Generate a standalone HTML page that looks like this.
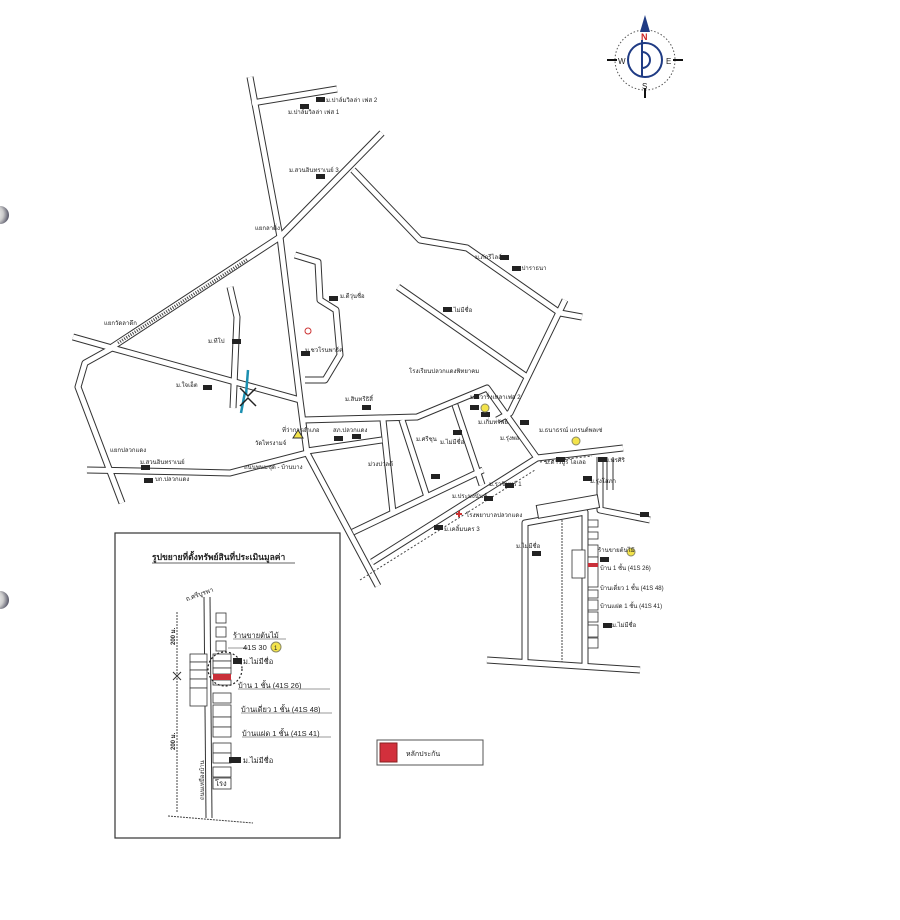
<!DOCTYPE html>
<html><head><meta charset="utf-8"><style>
html,body{margin:0;padding:0;background:#fff;}
svg{display:block;}
text{font-family:"Liberation Sans","Noto Sans CJK SC",sans-serif;fill:#222;}
.rd1{fill:none;stroke:#333;stroke-width:7;stroke-linejoin:round;}
.rd2{fill:none;stroke:#fff;stroke-width:5;stroke-linejoin:round;}
.s{font-size:6px;}
</style></head><body>
<svg width="900" height="920" viewBox="0 0 900 920" xmlns="http://www.w3.org/2000/svg">
<defs>
<radialGradient id="hole" cx="0.2" cy="0.45" r="0.8"><stop offset="0" stop-color="#fff"/><stop offset="0.6" stop-color="#ccc"/><stop offset="1" stop-color="#556"/></radialGradient>
</defs>
<rect width="900" height="920" fill="#fff"/>
<circle cx="0" cy="215" r="9" fill="url(#hole)"/>
<circle cx="0" cy="600" r="9" fill="url(#hole)"/>

<g class="rd1">
<polyline points="250,77 280,237 300,400 307,453 378,586"/>
<polyline points="252,103 337,89"/>
<polyline points="112,347 280,237 382,133"/>
<polyline points="73,337 112,348 300,400"/>
<polyline points="112,348 85,363 78,387 122,503"/>
<polyline points="230,287 237,317 233,408"/>
<polyline points="87,470 190,472 230,473 307,453"/>
<polyline points="307,451 382,440"/>
<polyline points="303,420 417,417 487,388 537,458 623,448"/>
<polyline points="383,420 393,513"/>
<polyline points="402,420 427,497"/>
<polyline points="455,405 482,485"/>
<polyline points="537,458 372,562"/>
<polyline points="353,532 483,470"/>
<polyline points="353,170 420,240 467,248 560,313 582,317"/>
<polyline points="565,300 510,413 497,420"/>
<polyline points="398,287 527,377"/>
<polyline points="600,457 600,510 650,520"/>
<polyline points="610,457 610,490"/>
<polyline points="525,662 525,523 585,512 585,667"/>
<polyline points="487,660 640,670"/>
<polyline points="295,255 318,262 320,300 336,310 340,355 325,380 305,380"/>
</g>
<g class="rd2">
<polyline points="250,77 280,237 300,400 307,453 378,586"/>
<polyline points="252,103 337,89"/>
<polyline points="112,347 280,237 382,133"/>
<polyline points="73,337 112,348 300,400"/>
<polyline points="112,348 85,363 78,387 122,503"/>
<polyline points="230,287 237,317 233,408"/>
<polyline points="87,470 190,472 230,473 307,453"/>
<polyline points="307,451 382,440"/>
<polyline points="303,420 417,417 487,388 537,458 623,448"/>
<polyline points="383,420 393,513"/>
<polyline points="402,420 427,497"/>
<polyline points="455,405 482,485"/>
<polyline points="537,458 372,562"/>
<polyline points="353,532 483,470"/>
<polyline points="353,170 420,240 467,248 560,313 582,317"/>
<polyline points="565,300 510,413 497,420"/>
<polyline points="398,287 527,377"/>
<polyline points="600,457 600,510 650,520"/>
<polyline points="610,457 610,490"/>
<polyline points="525,662 525,523 585,512 585,667"/>
<polyline points="487,660 640,670"/>
<polyline points="295,255 318,262 320,300 336,310 340,355 325,380 305,380"/>
</g>
<line x1="118" y1="343" x2="248" y2="259" stroke="#444" stroke-width="3" stroke-dasharray="1,1.5"/>
<g transform="rotate(-10 568 507)"><rect x="537" y="500" width="62" height="13" fill="#fff" stroke="#333"/></g>
<polyline points="360,580 535,470" fill="none" stroke="#444" stroke-dasharray="2,2"/>
<polyline points="540,462 592,456" fill="none" stroke="#444" stroke-dasharray="2,2"/>
<path d="M248,370 L246,395 M245,392 L241,413" stroke="#1b8fb0" stroke-width="2.5" fill="none"/>
<path d="M240,388 L248,396 L256,388 M240,406 L248,398 L256,406" stroke="#222" stroke-width="1.5" fill="none"/>

<g fill="#222">
<rect x="316" y="97" width="9" height="5"/><rect x="300" y="104" width="9" height="5"/>
<rect x="316" y="174" width="9" height="5"/><rect x="329" y="296" width="9" height="5"/>
<rect x="232" y="339" width="9" height="5"/><rect x="301" y="351" width="9" height="5"/>
<rect x="203" y="385" width="9" height="5"/><rect x="362" y="405" width="9" height="5"/>
<rect x="334" y="436" width="9" height="5"/><rect x="352" y="434" width="9" height="5"/>
<rect x="141" y="465" width="9" height="5"/><rect x="144" y="478" width="9" height="5"/>
<rect x="443" y="307" width="9" height="5"/><rect x="500" y="255" width="9" height="5"/>
<rect x="512" y="266" width="9" height="5"/><rect x="470" y="405" width="9" height="5"/>
<rect x="481" y="412" width="9" height="5"/><rect x="453" y="430" width="9" height="5"/>
<rect x="520" y="420" width="9" height="5"/><rect x="556" y="457" width="9" height="5"/>
<rect x="505" y="483" width="9" height="5"/><rect x="484" y="496" width="9" height="5"/>
<rect x="434" y="525" width="9" height="5"/><rect x="431" y="474" width="9" height="5"/>
<rect x="598" y="457" width="9" height="5"/><rect x="583" y="476" width="9" height="5"/>
<rect x="600" y="557" width="9" height="5"/><rect x="532" y="551" width="9" height="5"/>
<rect x="603" y="623" width="9" height="5"/><rect x="474" y="394" width="5" height="5"/>
<rect x="640" y="512" width="9" height="5"/>
</g>
<circle cx="485" cy="408" r="4" fill="#f3e34a" stroke="#886"/>
<circle cx="576" cy="441" r="4" fill="#f3e34a" stroke="#886"/>
<circle cx="631" cy="552" r="4" fill="#f3e34a" stroke="#886"/>
<circle cx="308" cy="331" r="3" fill="#fff" stroke="#c33"/>
<path d="M456,514 h6 M459,511 v6" stroke="#c33" stroke-width="2"/>
<path d="M293,438 l5,-8 l5,8 z" fill="#f3e34a" stroke="#333"/>
<g fill="#fff" stroke="#333" stroke-width="0.8">
<rect x="588" y="520" width="10" height="7"/><rect x="588" y="532" width="10" height="7"/>
<rect x="588" y="545" width="10" height="12"/><rect x="588" y="557" width="10" height="30"/>
<rect x="572" y="550" width="13" height="28"/>
<rect x="588" y="590" width="10" height="8"/><rect x="588" y="600" width="10" height="10"/>
<rect x="588" y="612" width="10" height="10"/><rect x="588" y="625" width="10" height="12"/>
<rect x="588" y="638" width="10" height="10"/>
</g>
<rect x="588" y="563" width="10" height="4" fill="#c9303a"/>
<line x1="562" y1="520" x2="562" y2="662" stroke="#444" stroke-dasharray="2,1"/>

<g class="s">
<text x="326" y="102">ม.ปาล์มวิลล่า เฟส 2</text>
<text x="288" y="114">ม.ปาล์มวิลล่า เฟส 1</text>
<text x="289" y="172">ม.สวนอินทราเนย์ 3</text>
<text x="255" y="230">แยกลาดิ่ง</text>
<text x="340" y="298">ม.ดีวุ่นชื่อ</text>
<text x="208" y="343">ม.ทีโป</text>
<text x="104" y="325">แยกวัดลาดึก</text>
<text x="305" y="352">ม.ชวโรนพาร์ค</text>
<text x="176" y="387">ม.ใจเอ็ต</text>
<text x="345" y="401">ม.สินทรีธิสิ์</text>
<text x="282" y="432">ที่ว่าการอำเภอ</text>
<text x="255" y="445">วัดไทรงามจ์</text>
<text x="333" y="432">สภ.ปลวกแดง</text>
<text x="110" y="452">แยกปลวกแดง</text>
<text x="140" y="464">ม.สวนอินทราเนย์</text>
<text x="155" y="481">บก.ปลวกแดง</text>
<text x="244" y="469" fill="#666">ถนนพนมชุด - บ้านบาง</text>
<text x="368" y="466">ม่วงปวลดี</text>
<text x="440" y="444">ม.ไม่มีชื่อ</text>
<text x="416" y="441">ม.ศรีชุน</text>
<text x="409" y="373">โรงเรียนปลวกแดงพิทยาคม</text>
<text x="470" y="399">ม.ชวาริ่งเหลาเฟส 2</text>
<text x="478" y="424">ม.เกิ่มทรัพย์</text>
<text x="500" y="440">ม.รุ่งพล</text>
<text x="539" y="432">ม.ธนาธรณ์ แกรนด์พลเซ่</text>
<text x="452" y="498">ม.ประมงนันท์</text>
<text x="489" y="486">ม.ราชินทร์ 1</text>
<text x="466" y="517">โรงพยาบาลปลวกแดง</text>
<text x="444" y="531">ม.เคลิ้มนคร 3</text>
<text x="545" y="464">ม.ดาวบูรี ไอเลอ</text>
<text x="590" y="483">ม.รุ่งโสภา</text>
<text x="605" y="462">ม.พรศิริ</text>
<text x="448" y="312">ม.ไม่มีชื่อ</text>
<text x="475" y="259">ม.ภักรีไลล์</text>
<text x="516" y="270">ม.ปาราธนา</text>
<text x="516" y="548">ม.ไม่มีชื่อ</text>
<text x="598" y="552">ร้านขายต้นไม้</text>
<text x="600" y="570">บ้าน 1 ชั้น (41S 26)</text>
<text x="600" y="590">บ้านเดี่ยว 1 ชั้น (41S 48)</text>
<text x="600" y="608">บ้านแฝด 1 ชั้น (41S 41)</text>
<text x="612" y="627">ม.ไม่มีชื่อ</text>
</g>

<g transform="translate(645,60)">
<circle r="30" fill="none" stroke="#555" stroke-dasharray="1.5,2"/>
<circle r="17" fill="none" stroke="#1f3b84" stroke-width="2"/>
<path d="M-3,-20 L-3,17 M-3,-8 a8,8 0 1 1 0,16" fill="none" stroke="#1f3b84" stroke-width="2"/>
<path d="M0,-45 L-5,-28 L5,-28 z" fill="#1f3b84"/>
<line x1="-38" y1="0" x2="-28" y2="0" stroke="#111" stroke-width="2"/>
<line x1="28" y1="0" x2="38" y2="0" stroke="#111" stroke-width="2"/>
<line x1="0" y1="28" x2="0" y2="38" stroke="#111" stroke-width="2"/>
<text x="-4" y="-20" style="font-size:9px;fill:#c22;font-weight:bold">N</text>
<text x="-27" y="4" style="font-size:8px">W</text>
<text x="21" y="4" style="font-size:8px">E</text>
<text x="-3" y="29" style="font-size:8px">S</text>
</g>

<rect x="115" y="533" width="225" height="305" fill="none" stroke="#333" stroke-width="1.2"/>
<text x="152" y="560" style="font-size:8.5px;font-weight:bold">รูปขยายที่ตั้งทรัพย์สินที่ประเมินมูลค่า</text>
<line x1="152" y1="563" x2="295" y2="563" stroke="#333" stroke-width="0.8"/>
<g class="rd1"><polyline points="207,597 209,818"/></g><g class="rd2"><polyline points="207,597 209,818"/></g>
<text x="185" y="598" style="font-size:6.5px" transform="rotate(-20 195 595)">ถ.ศรีบูรพา</text>
<g fill="#fff" stroke="#333" stroke-width="0.8">
<rect x="216" y="613" width="10" height="10"/><rect x="216" y="627" width="10" height="10"/>
<rect x="216" y="641" width="10" height="10"/>
<rect x="213" y="654" width="18" height="7"/><rect x="213" y="661" width="18" height="7"/><rect x="213" y="668" width="18" height="6"/><rect x="213" y="680" width="18" height="5"/>
<rect x="190" y="654" width="17" height="8"/><rect x="190" y="662" width="17" height="8"/><rect x="190" y="670" width="17" height="9"/><rect x="190" y="679" width="17" height="9"/><rect x="190" y="688" width="17" height="18"/>
<rect x="213" y="693" width="18" height="10"/><rect x="213" y="705" width="18" height="12"/><rect x="213" y="717" width="18" height="10"/><rect x="213" y="727" width="18" height="10"/>
<rect x="213" y="743" width="18" height="10"/><rect x="213" y="753" width="18" height="10"/><rect x="213" y="767" width="18" height="10"/><rect x="213" y="778" width="18" height="11"/>
</g>
<rect x="213" y="674" width="18" height="6" fill="#c9303a"/>
<circle cx="225" cy="669" r="17" fill="none" stroke="#222" stroke-dasharray="2,2" stroke-width="1.2"/>
<line x1="177" y1="612" x2="177" y2="813" stroke="#444" stroke-dasharray="2,1"/>
<path d="M173,672 l8,8 M181,672 l-8,8" stroke="#333"/>
<text x="0" y="0" style="font-size:6px;font-weight:bold" transform="translate(175,645) rotate(-90)">200 ม.</text>
<text x="0" y="0" style="font-size:6px;font-weight:bold" transform="translate(175,750) rotate(-90)">200 ม.</text>
<text x="0" y="0" style="font-size:6px" transform="translate(204,800) rotate(-90)">ถนนเหมืองบ้าน</text>
<line x1="168" y1="816" x2="253" y2="823" stroke="#444" stroke-dasharray="2,1"/>
<line x1="228" y1="648" x2="248" y2="648" stroke="#333" stroke-width="0.6"/>
<g style="font-size:7.5px">
<text x="233" y="638">ร้านขายต้นไม้</text>
<text x="243" y="650">41S 30</text>
<text x="243" y="664">ม.ไม่มีชื่อ</text>
<text x="238" y="688">บ้าน 1 ชั้น (41S 26)</text>
<text x="241" y="712">บ้านเดี่ยว 1 ชั้น (41S 48)</text>
<text x="242" y="736">บ้านแฝด 1 ชั้น (41S 41)</text>
<text x="243" y="763">ม.ไม่มีชื่อ</text>
<text x="215" y="786">โรง</text>
</g>
<line x1="233" y1="639" x2="286" y2="639" stroke="#333" stroke-width="0.6"/>
<line x1="238" y1="689" x2="330" y2="689" stroke="#333" stroke-width="0.6"/>
<line x1="241" y1="713" x2="332" y2="713" stroke="#333" stroke-width="0.6"/>
<line x1="242" y1="737" x2="331" y2="737" stroke="#333" stroke-width="0.6"/>
<rect x="233" y="658" width="9" height="6" fill="#222"/>
<rect x="229" y="757" width="12" height="6" fill="#222"/>
<circle cx="276" cy="647" r="5" fill="#f3e34a" stroke="#886"/>
<text x="274" y="650" style="font-size:6px">1</text>

<rect x="377" y="740" width="106" height="25" fill="#fff" stroke="#555"/>
<rect x="380" y="743" width="17" height="19" fill="#d2303c" stroke="#822"/>
<text x="406" y="756" style="font-size:7px">หลักประกัน</text>
</svg>
</body></html>
